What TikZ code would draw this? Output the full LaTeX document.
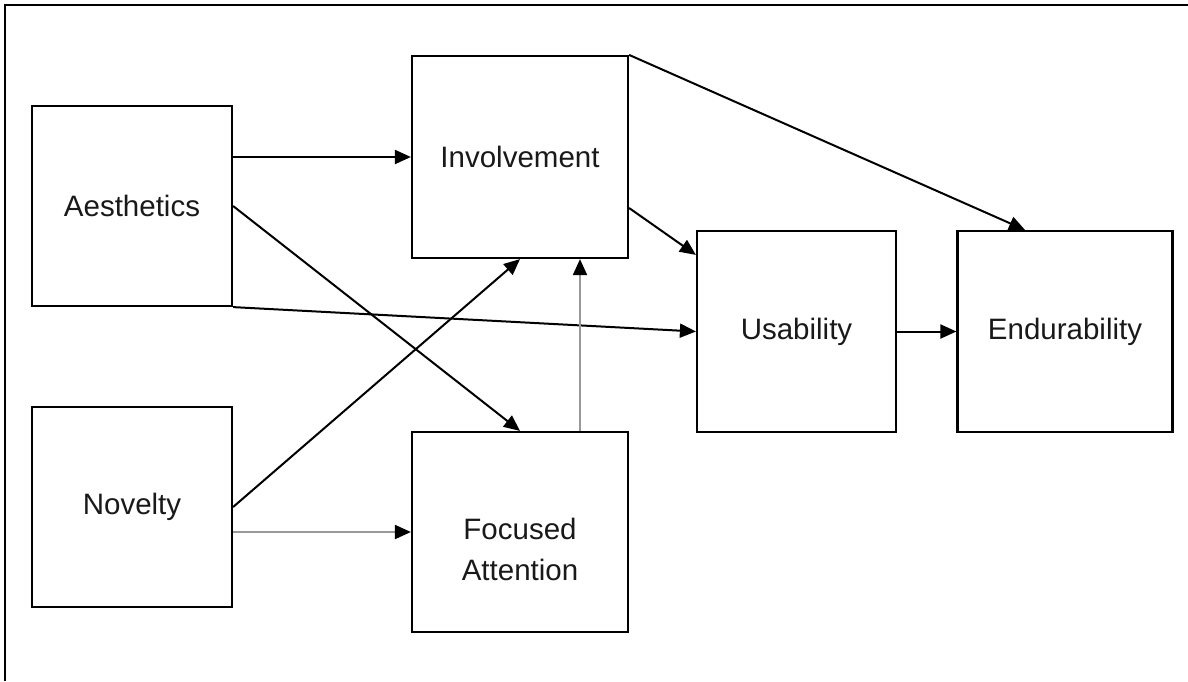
\documentclass[tikz,border=0pt]{standalone}
\usepackage{fontspec}
\setmainfont{Liberation Sans}
\usetikzlibrary{arrows.meta}
\begin{document}
\begin{tikzpicture}[x=1pt,y=-1pt,
  box/.style={draw=black,line width=2.2pt,minimum width=#1,inner sep=0pt,font=\fontsize{29.5}{41}\selectfont,align=center,text=black!90},
  txt/.style={font=\fontsize{29.5}{41}\selectfont,align=center,text=black!90,inner sep=0pt},
  conn/.style={line width=2pt,-{Triangle[length=16pt,width=14pt,color=black]}},
  grayconn/.style={conn,draw=black!40}]
\useasboundingbox (0,0) rectangle (1188,681);
\draw[line width=2.2pt] (5,681) -- (5,5) -- (1188,5);
\node[box=200pt,minimum height=200pt] (aes) at (132,206) {Aesthetics};
\node[box=200pt,minimum height=200pt] (nov) at (132,507) {Novelty};
\node[box=216pt,minimum height=202pt] (inv) at (520,157) {Involvement};
\node[box=216pt,minimum height=200pt] (foc) at (520,532) {};
\node[txt] (foctext) at ([yshift=-17pt]foc.center) {Focused\\Attention};
\node[box=199pt,minimum height=201pt] (usa) at (796.5,331.5) {Usability};
\node[box=215pt,minimum height=201pt] (end) at (1065,331.5) {Endurability};
\draw[conn] (aes.east |- inv.west) -- (inv.west);
\draw[conn] (aes.east) -- (foc.north);
\draw[conn] (aes.south east) -- (usa.west);
\draw[conn] (nov.east) -- (inv.south);
\draw[grayconn] (nov.east |- foc.west) -- (foc.west);
\draw[grayconn] ([xshift=60pt]foc.north) -- ([xshift=60pt]inv.south);
\draw[conn] ([yshift=-51pt]inv.east) -- ([yshift=-25pt]usa.north west);
\draw[conn] (inv.north east) -- ([xshift=-40pt]end.north);
\draw[conn] (usa.east) -- (end.west);
\end{tikzpicture}
\end{document}
